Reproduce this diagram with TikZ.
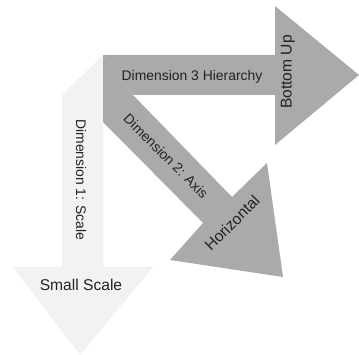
\documentclass[tikz,border=0pt]{standalone}
\usepackage{fontspec}
\setmainfont{Liberation Sans}
\begin{document}
\begin{tikzpicture}[x=1pt,y=-1pt,
  darkarrow/.style={fill=arrowgray,draw=none},
  lightarrow/.style={fill=arrowlight,draw=none},
  dimlabel/.style={text=labelcol,font=\fontsize{13.9}{16}\selectfont,inner sep=0pt},
  endlabel/.style={text=labelcol,font=\fontsize{15.6}{18}\selectfont,inner sep=0pt}]
\definecolor{arrowgray}{RGB}{170,170,170}
\definecolor{arrowlight}{RGB}{242,242,242}
\definecolor{labelcol}{RGB}{34,34,34}
\useasboundingbox (0,0) rectangle (359,355);
% light vertical arrow
\fill[lightarrow] (62,95) -- (103,55) -- (103,267) -- (153,267) -- (80,355) -- (13,267) -- (62,267) -- cycle;
% top horizontal arrow
\fill[darkarrow] (103,55) -- (275,55) -- (275,6) -- (359,75) -- (275,145) -- (275,95) -- (133,95) -- cycle;
% diagonal arrow
\fill[darkarrow] (103,55) -- (133,95) -- (232,197) -- (267,163) -- (283,277) -- (170,260) -- (203,223) -- (103,122) -- cycle;
% labels
\node[dimlabel] (d3) at (192,77) {Dimension 3 Hierarchy};
\node[endlabel,rotate=90] (bu) at (288,72) {Bottom Up};
\node[dimlabel,rotate=-90] (d1) at (81,180) {Dimension 1: Scale};
\node[endlabel] (ss) at (81,285) {Small Scale};
\node[dimlabel,rotate=-45] (d2) at (166,156) {Dimension 2: Axis};
\node[endlabel,rotate=45] (hz) at (232,223) {Horizontal};
\end{tikzpicture}
\end{document}
